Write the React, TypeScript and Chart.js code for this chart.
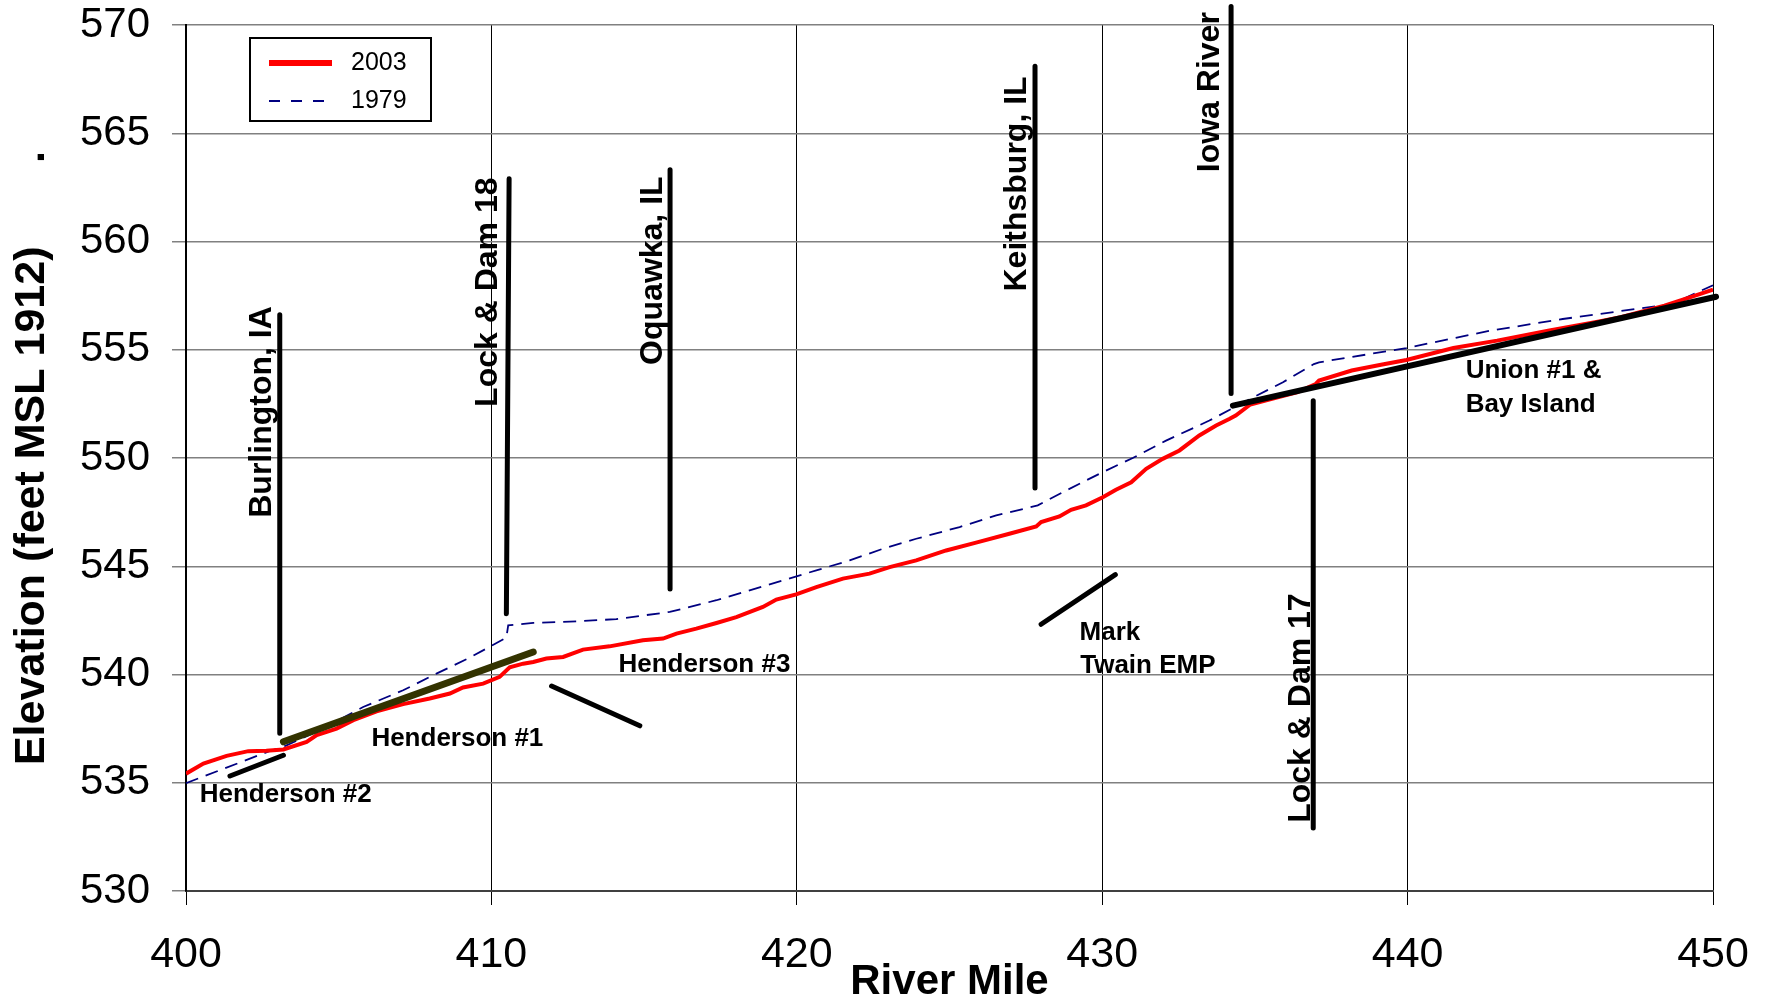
import { useEffect, useRef } from "react";
import { Chart, registerables } from "chart.js";

Chart.register(...registerables);

const FONT = "'Liberation Sans', Arial, Helvetica, sans-serif";

// ---- 2003 water surface profile (river mile, elevation ft MSL 1912)
const miles2003 = [
  400.0, 400.57, 401.33, 402.04, 402.63, 403.19, 403.95, 404.28, 404.93, 405.48,
  406.24, 407.11, 407.98, 408.64, 409.07, 409.73, 410.27, 410.6, 411.04, 411.37,
  411.8, 412.35, 413.0, 413.87, 414.96, 415.62, 416.06, 416.71, 417.37, 418.02,
  418.89, 419.33, 419.98, 420.64, 421.51, 422.38, 423.04, 423.91, 424.89, 425.87,
  426.96, 427.84, 428.0, 428.6, 428.98, 429.47, 430.02, 430.45, 430.95, 431.44,
  431.98, 432.53, 433.18, 433.73, 434.16, 434.37, 434.85, 435.56, 436.4, 436.99,
  437.1, 438.17, 439.13, 439.96, 441.5, 442.93, 444.6, 446.27, 446.98, 448.41,
  449.24, 450.0,
];
const elev2003 = [
  535.42, 535.89, 536.24, 536.46, 536.48, 536.54, 536.89, 537.2, 537.5, 537.89,
  538.3, 538.63, 538.89, 539.12, 539.4, 539.58, 539.89, 540.33, 540.5, 540.58,
  540.74, 540.81, 541.15, 541.3, 541.58, 541.66, 541.89, 542.12, 542.38, 542.65,
  543.12, 543.46, 543.7, 544.04, 544.43, 544.66, 544.96, 545.27, 545.73, 546.09,
  546.5, 546.84, 547.04, 547.3, 547.61, 547.81, 548.19, 548.53, 548.88, 549.5,
  549.96, 550.35, 551.04, 551.5, 551.8, 551.96, 552.47, 552.73, 553.04, 553.42,
  553.58, 554.04, 554.31, 554.53, 555.08, 555.42, 555.88, 556.31, 556.5, 557.04,
  557.42, 557.78,
];

// ---- 1979 water surface profile
const miles1979 = [
  400.0, 401.11, 402.75, 403.19, 404.38, 405.8, 407.11, 408.2, 409.29, 410.49,
  410.55, 411.37, 413.0, 414.09, 415.84, 417.37, 419.0, 420.64, 421.73, 422.82,
  423.91, 425.33, 426.53, 427.89, 428.82, 430.02, 431.0, 432.09, 433.51, 434.85,
  435.92, 436.93, 437.1, 439.96, 442.7, 445.08, 447.46, 448.65, 450.0,
];
const elev1979 = [
  534.98, 535.58, 536.47, 536.66, 537.43, 538.5, 539.27, 540.04, 540.78, 541.7,
  542.27, 542.38, 542.47, 542.56, 542.89, 543.43, 544.12, 544.81, 545.27, 545.81,
  546.27, 546.81, 547.35, 547.81, 548.5, 549.35, 550.0, 550.8, 551.73, 552.73,
  553.5, 554.34, 554.42, 555.08, 555.88, 556.42, 556.88, 557.11, 557.98,
];

// ---- axis ticks
const xTicks = [400, 410, 420, 430, 440, 450];
const yTicks = [530, 535, 540, 545, 550, 555, 560, 565, 570];

// ---- annotation marker lines (start/end in river mile & elevation)
const markerNames = [
  "Burlington", "LockDam18", "Oquawka", "Keithsburg", "IowaRiver", "LockDam17",
  "Henderson2", "Henderson1", "Henderson3", "MarkTwain", "Union1",
];
const markerMile1 = [403.07, 410.58, 415.85, 427.8, 434.22, 436.91, 401.44, 403.19, 411.97, 428.0, 434.28];
const markerElev1 = [556.62, 562.9, 563.31, 568.09, 570.85, 552.65, 535.31, 536.89, 539.47, 542.32, 552.42];
const markerMile2 = [403.07, 410.49, 415.85, 427.8, 434.22, 436.91, 403.19, 411.37, 414.86, 430.43, 450.1];
const markerElev2 = [537.29, 542.81, 543.95, 548.62, 552.98, 532.91, 536.27, 541.04, 537.63, 544.61, 557.45];
const markerColors = ["#000", "#000", "#000", "#000", "#000", "#000", "#000", "#333300", "#000", "#000", "#000"];
const markerWidths = [5, 5, 5, 5, 5, 5, 5, 7, 5, 5, 6];

// ---- text annotations
const labelTexts = [
  "Henderson #2", "Henderson #1", "Henderson #3", "Mark", "Twain EMP", "Union #1 &", "Bay Island",
  "Burlington, IA", "Lock & Dam 18", "Oquawka, IL", "Keithsburg, IL", "Iowa River", "Lock & Dam 17",
];
const labelMiles = [400.45, 406.07, 414.16, 429.26, 429.28, 441.9, 441.9, 402.78, 410.18, 415.58, 427.49, 433.84, 436.81];
const labelElevs = [534.12, 536.69, 540.12, 541.61, 540.07, 553.68, 552.11, 547.24, 552.36, 554.3, 557.69, 563.2, 533.15];
const labelRotated = [false, false, false, false, false, false, false, true, true, true, true, true, true];

const legendLabels = ["2003", "1979"];

const textPlugin = {
  id: "textAnnotations",
  afterDatasetsDraw(chart: any) {
    const { ctx } = chart;
    const xs = chart.scales.x;
    const ys = chart.scales.y;
    ctx.save();
    ctx.fillStyle = "#000";
    ctx.textAlign = "left";
    ctx.textBaseline = "alphabetic";
    labelTexts.forEach((t, i) => {
      const px = xs.getPixelForValue(labelMiles[i]);
      const py = ys.getPixelForValue(labelElevs[i]);
      ctx.save();
      ctx.translate(px, py);
      if (labelRotated[i]) {
        ctx.rotate(-Math.PI / 2);
        ctx.font = `bold 32px ${FONT}`;
      } else {
        ctx.font = `bold 26px ${FONT}`;
      }
      ctx.fillText(t, 0, 0);
      ctx.restore();
    });
    ctx.restore();
  },
};

const legendPlugin = {
  id: "boxLegend",
  afterDraw(chart: any) {
    const { ctx } = chart;
    const ds = chart.data.datasets;
    ctx.save();
    ctx.fillStyle = "#fff";
    ctx.fillRect(250, 38, 181, 83);
    ctx.strokeStyle = "#000";
    ctx.lineWidth = 2;
    ctx.strokeRect(250, 38, 181, 83);
    const rows = [63, 101];
    for (let i = 0; i < 2; i++) {
      const d = ds[i];
      ctx.beginPath();
      ctx.strokeStyle = d.borderColor;
      ctx.lineWidth = i === 0 ? 6 : 2;
      ctx.setLineDash(i === 0 ? [] : [11, 11]);
      ctx.moveTo(269, rows[i]);
      ctx.lineTo(332, rows[i]);
      ctx.stroke();
      ctx.setLineDash([]);
      ctx.fillStyle = "#000";
      ctx.font = `25px ${FONT}`;
      ctx.textAlign = "left";
      ctx.textBaseline = "alphabetic";
      ctx.fillText(legendLabels[i], 351, rows[i] + 7);
    }
    ctx.restore();
  },
};

const zeroPad = (s: any) => {
  s.paddingTop = 0;
  s.paddingBottom = 0;
  s.paddingLeft = 0;
  s.paddingRight = 0;
};

export default function App() {
  const ref = useRef<HTMLCanvasElement | null>(null);

  useEffect(() => {
    if (!ref.current) return;
    const pts = (mx: number[], ey: number[]) => mx.map((m, i) => ({ x: m, y: ey[i] }));

    const markerSets = markerNames.map((n, i) => ({
      label: n,
      data: [
        { x: markerMile1[i], y: markerElev1[i] },
        { x: markerMile2[i], y: markerElev2[i] },
      ],
      borderColor: markerColors[i],
      borderWidth: markerWidths[i],
      borderCapStyle: "round" as const,
      pointRadius: 0,
      tension: 0,
      clip: false as any,
      order: 0,
    }));

    const chart = new Chart(ref.current, {
      type: "line",
      data: {
        datasets: [
          {
            label: "2003",
            data: pts(miles2003, elev2003),
            borderColor: "#ff0000",
            borderWidth: 4,
            pointRadius: 0,
            tension: 0,
            order: 1,
          },
          {
            label: "1979",
            data: pts(miles1979, elev1979),
            borderColor: "#000080",
            borderWidth: 1.8,
            borderDash: [13, 8],
            pointRadius: 0,
            tension: 0,
            order: 2,
          },
          ...markerSets,
        ],
      },
      options: {
        animation: false,
        responsive: false,
        devicePixelRatio: 1,
        layout: { autoPadding: false, padding: { top: 25, right: 54, bottom: 0, left: 0 } },
        plugins: { legend: { display: false }, tooltip: { enabled: false } },
        scales: {
          x: {
            type: "linear",
            min: 400,
            max: 450,
            afterFit: (s: any) => {
              s.height = 109;
              zeroPad(s);
            },
            afterBuildTicks: (s: any) => {
              s.ticks = xTicks.map((v) => ({ value: v }));
            },
            ticks: {
              color: "#000",
              padding: 29,
              font: { family: FONT, size: 43, lineHeight: 1 },
              maxRotation: 0,
            },
            grid: { color: "#000", lineWidth: 1, tickLength: 14 },
            border: { color: "#404040", width: 2 },
            title: {
              display: true,
              text: "River Mile",
              color: "#000",
              font: { family: FONT, size: 42, weight: "bold", lineHeight: 1 },
              padding: { top: 0, bottom: -3 },
            },
          },
          y: {
            type: "linear",
            min: 530,
            max: 570,
            afterFit: (s: any) => {
              s.width = 186;
              zeroPad(s);
            },
            afterBuildTicks: (s: any) => {
              s.ticks = yTicks.map((v) => ({ value: v }));
            },
            ticks: {
              color: "#000",
              padding: 22,
              font: { family: FONT, size: 42, lineHeight: 1 },
            },
            grid: { color: "#808080", lineWidth: 1.5, tickLength: 14 },
            border: { color: "#000", width: 2 },
            title: {
              display: true,
              text: "Elevation (feet MSL 1912)       .",
              color: "#000",
              font: { family: FONT, size: 43, weight: "bold", lineHeight: 1 },
              padding: { top: 11, bottom: 0 },
            },
          },
        },
      },
      plugins: [textPlugin, legendPlugin],
    });
    return () => chart.destroy();
  }, []);

  return (
    <div style={{ position: "absolute", left: 0, top: 0, width: 1767, height: 1000, background: "#fff" }}>
      <canvas ref={ref} width={1767} height={1000} style={{ display: "block", width: 1767, height: 1000 }} />
    </div>
  );
}
